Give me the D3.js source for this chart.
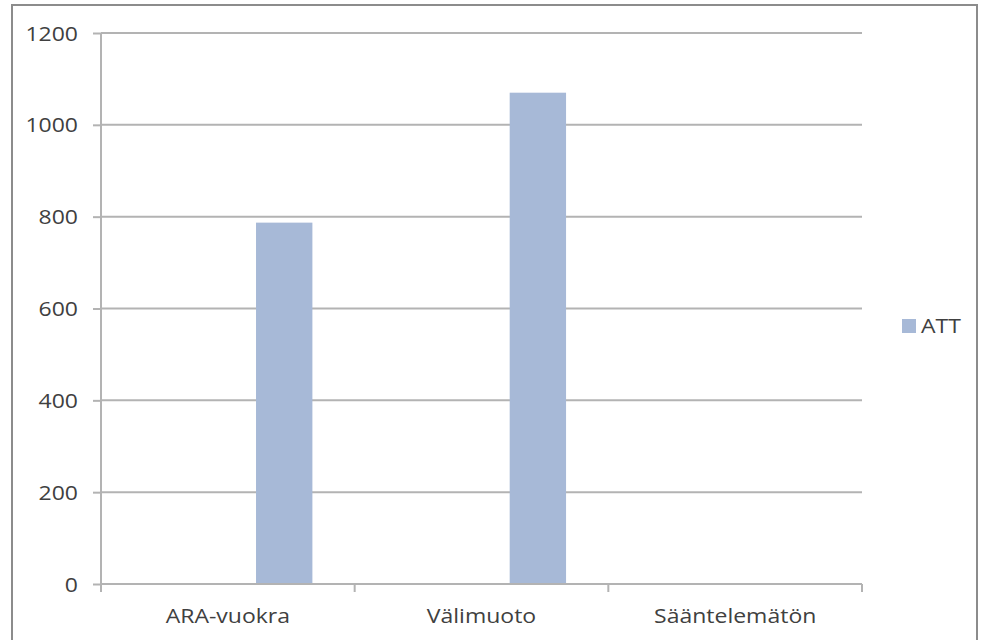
<!DOCTYPE html>
<html>
<head>
<meta charset="utf-8">
<script src="https://cdn.jsdelivr.net/npm/d3@7"></script>
<style>
  html, body { margin: 0; padding: 0; background: #ffffff; }
  svg { display: block; }
</style>
</head>
<body>
<svg id="chart" width="988" height="640"></svg>
<script>
// ---- data ----
const categories = ["ARA-vuokra", "Välimuoto", "Sääntelemätön"];
const slotKeys = ["series1", "series2", "ATT"];   // clustered slots; only ATT has values
const attValues = [787, 1070, null];
const yTicks = [0, 200, 400, 600, 800, 1000, 1200];
const legendLabels = ["ATT"];

// ---- layout ----
const svg = d3.select("#chart");
const W = 988, H = 640;
const plot = { left: 101, right: 862, top: 33, bottom: 584 };
const textColor = "#404040";
const gridColor = "#b3b3b3";
const barColor = "#a7b9d7";
const fontFamily = "'Open Sans', 'Liberation Sans', sans-serif";
const sx = 1.15; // horizontal stretch of text, like the reference

// outer border
svg.append("rect")
  .attr("x", 12).attr("y", 5)
  .attr("width", 965).attr("height", 645)
  .attr("fill", "#fff")
  .attr("stroke", "#8c8c8c").attr("stroke-width", 2);

const x = d3.scaleBand().domain(categories)
  .range([plot.left, plot.right]).paddingInner(0).paddingOuter(0);
// Excel style gap width 150% -> inner padding of bars
const xs = d3.scaleBand().domain(slotKeys)
  .range([0, x.bandwidth()]).paddingInner(0).paddingOuter(0.75);
const y = d3.scaleLinear().domain([0, 1200]).range([plot.bottom, plot.top]);

// gridlines
svg.append("g").selectAll("line").data(yTicks.filter(d => d > 0)).join("line")
  .attr("x1", plot.left).attr("x2", plot.right)
  .attr("y1", d => y(d)).attr("y2", d => y(d))
  .attr("stroke", gridColor).attr("stroke-width", 2);

// bars
const barData = categories.map((c, i) => ({ cat: c, key: "ATT", value: attValues[i] }))
  .filter(d => d.value != null);
svg.append("g").selectAll("rect").data(barData).join("rect")
  .attr("x", d => x(d.cat) + xs(d.key))
  .attr("width", xs.bandwidth())
  .attr("y", d => y(d.value))
  .attr("height", d => y(0) - y(d.value))
  .attr("fill", barColor);

// y axis
const yAxis = svg.append("g").attr("transform", `translate(${plot.left},0)`)
  .call(d3.axisLeft(y).tickValues(yTicks).tickSize(8).tickPadding(0).tickFormat(d3.format("d")));
yAxis.select(".domain").attr("stroke", gridColor).attr("stroke-width", 2)
  .attr("d", `M0,${plot.top}V${plot.bottom}`);
yAxis.selectAll(".tick line").attr("stroke", gridColor).attr("stroke-width", 2);
yAxis.selectAll(".tick text").remove();
yAxis.selectAll(".tick").append("text")
  .attr("transform", `translate(-23,0) scale(${sx},1)`)
  .attr("text-anchor", "end").attr("dy", "0.35em")
  .attr("fill", textColor).attr("font-family", fontFamily).attr("font-size", 20)
  .text(d => d3.format("d")(d));

// x axis
const xAxisG = svg.append("g").attr("transform", `translate(0,${plot.bottom})`);
xAxisG.append("line").attr("x1", plot.left).attr("x2", plot.right)
  .attr("stroke", gridColor).attr("stroke-width", 2);
const boundaries = categories.map(c => x(c)).concat([plot.right]);
xAxisG.selectAll("line.tk").data(boundaries).join("line").attr("class", "tk")
  .attr("x1", d => d).attr("x2", d => d).attr("y1", 0).attr("y2", 8)
  .attr("stroke", gridColor).attr("stroke-width", 2);
xAxisG.selectAll("text").data(categories).join("text")
  .attr("transform", d => `translate(${x(d) + x.bandwidth() / 2},39) scale(${sx},1)`)
  .attr("text-anchor", "middle")
  .attr("fill", textColor).attr("font-family", fontFamily).attr("font-size", 20)
  .text(d => d);

// legend
const lg = svg.append("g").attr("transform", "translate(902,319)");
lg.selectAll("rect").data(legendLabels).join("rect")
  .attr("x", 0).attr("y", 0).attr("width", 14).attr("height", 14).attr("fill", barColor);
lg.selectAll("text").data(legendLabels).join("text")
  .attr("transform", `translate(19,14) scale(${sx},1)`)
  .attr("fill", textColor).attr("font-family", fontFamily).attr("font-size", 20)
  .text(d => d);
</script>
</body>
</html>
